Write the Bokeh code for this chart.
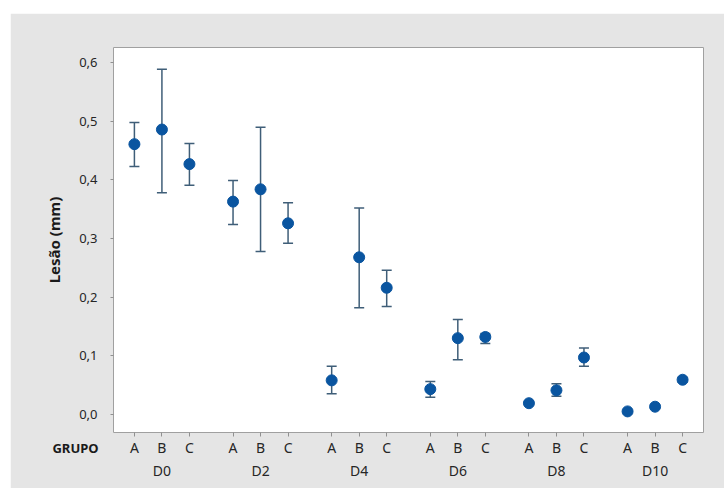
from bokeh.plotting import figure
from bokeh.models import (ColumnDataSource, FactorRange, Range1d, Whisker, TeeHead,
                          FixedTicker, CustomJSTickFormatter, Label)
from bokeh.embed import file_html
from bokeh.resources import INLINE

groups = ["D0", "D2", "D4", "D6", "D8", "D10"]
subs = ["A", "B", "C"]

means = [0.461, 0.486, 0.427,
         0.363, 0.384, 0.326,
         0.058, 0.268, 0.216,
         0.043, 0.130, 0.132,
         0.019, 0.041, 0.097,
         0.005, 0.013, 0.059]
upper = [0.498, 0.589, 0.462,
         0.399, 0.490, 0.361,
         0.082, 0.352, 0.246,
         0.056, 0.162, 0.138,
         0.022, 0.052, 0.113,
         0.007, 0.016, 0.063]
lower = [0.423, 0.378, 0.391,
         0.324, 0.278, 0.292,
         0.035, 0.182, 0.184,
         0.029, 0.093, 0.121,
         0.016, 0.031, 0.082,
         0.003, 0.010, 0.055]
yticks = [0.0, 0.1, 0.2, 0.3, 0.4, 0.5, 0.6]

factors = [(g, s) for g in groups for s in subs]
src = ColumnDataSource(dict(x=factors, y=means, upper=upper, lower=lower))

FONT = "Noto Sans"
GRAY_BG = "#e5e5e5"
TXT = "#262626"

p = figure(width=714, height=475, output_backend="svg", toolbar_location=None,
           x_range=FactorRange(*factors, factor_padding=0.0, group_padding=0.585,
                               range_padding=0.26, range_padding_units="absolute"),
           y_range=Range1d(-0.031, 0.626),
           min_border_left=103, min_border_right=21, min_border_top=34, min_border_bottom=56)
p.margin = (13, 0, 0, 10)

p.background_fill_color = "white"
p.border_fill_color = GRAY_BG
p.outline_line_color = "#a0a0a0"
p.outline_line_width = 1
p.grid.visible = False

wh = Whisker(base="x", upper="upper", lower="lower", source=src,
             line_color="#3f5e78", line_width=1.5,
             upper_head=TeeHead(size=10, line_color="#3f5e78", line_width=1.5),
             lower_head=TeeHead(size=10, line_color="#3f5e78", line_width=1.5))
p.add_layout(wh)
p.scatter("x", "y", source=src, size=11, fill_color="#0a55a0", line_color="#0a55a0")

# y axis
ya = p.yaxis[0]
ya.ticker = FixedTicker(ticks=yticks)
ya.formatter = CustomJSTickFormatter(code="return tick.toFixed(1).replace('.', ',');")
ya.axis_line_color = None
ya.major_tick_line_color = "#909090"
ya.major_tick_out = 3
ya.major_tick_in = 0
ya.minor_tick_line_color = None
ya.major_label_standoff = 13
ya.major_label_text_font = FONT
ya.major_label_text_font_size = "13px"
ya.major_label_text_color = TXT
ya.axis_label = "Lesão (mm)"
ya.axis_label_text_font = FONT
ya.axis_label_text_font_style = "bold"
ya.axis_label_text_font_size = "15px"
ya.axis_label_text_color = "#1a1a1a"
ya.axis_label_standoff = 12

# x axis
xa = p.xaxis[0]
xa.axis_line_color = None
xa.major_tick_line_color = "#909090"
xa.major_tick_out = 4
xa.major_tick_in = 0
xa.major_label_standoff = 1
xa.major_label_text_font = FONT
xa.major_label_text_font_size = "14px"
xa.major_label_text_color = TXT
xa.group_text_font = FONT
xa.group_text_font_size = "14px"
xa.group_text_font_style = "normal"
xa.group_text_color = TXT
xa.separator_line_color = None

# "GRUPO" row caption, left of the category labels (side panel -> not clipped)
p.add_layout(Label(x=65, y=434, x_units="canvas", y_units="canvas", text="GRUPO",
                   text_align="center", text_baseline="middle", text_font=FONT,
                   text_font_size="13px", text_font_style="bold", text_color="#1a1a1a"),
             "above")

open("out.html", "w").write(file_html(p, INLINE))
